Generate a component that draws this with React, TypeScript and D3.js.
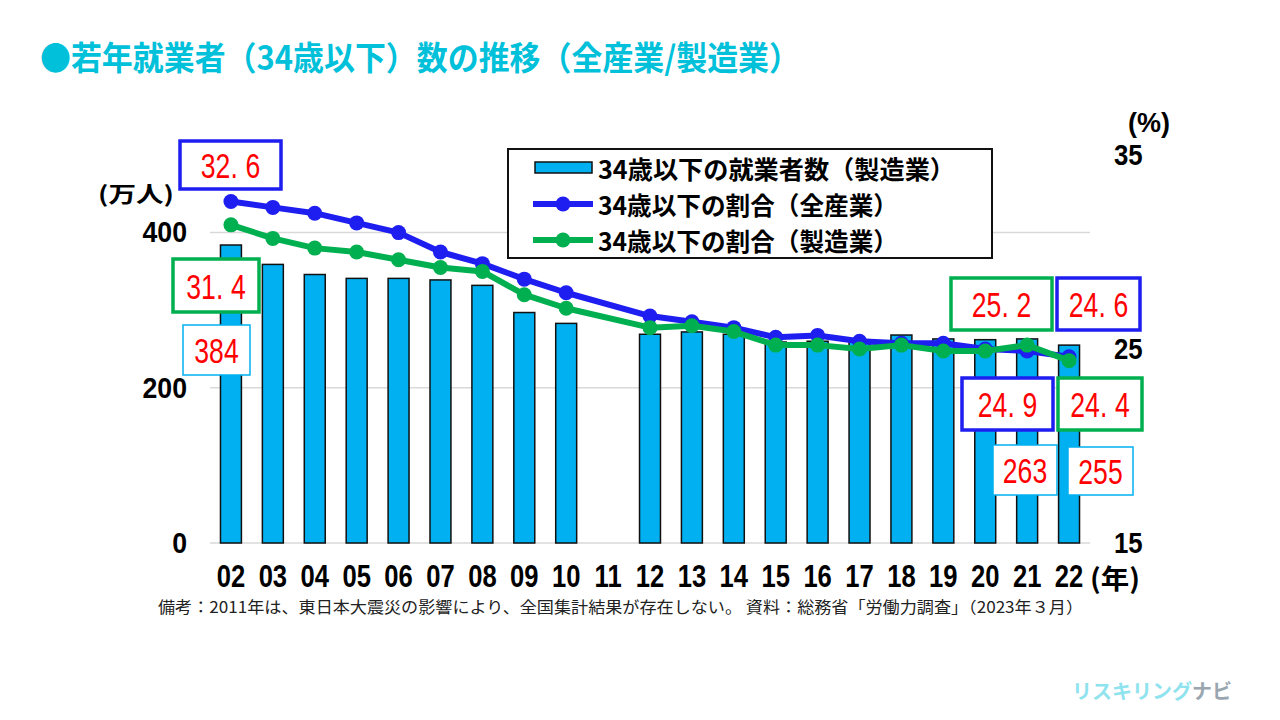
import React from "react";
import * as d3 from "d3";

// ---- data ----
const years = ["02","03","04","05","06","07","08","09","10","11","12","13","14","15","16","17","18","19","20","21","22"];
// 34歳以下の就業者数（製造業）, 万人 (2011: no data)
const workersMfg: (number | null)[] = [384,359,346,341,341,339,332,297,283,null,269,272,269,259,260,262,268,263,262,263,255];
// 34歳以下の割合（全産業）, %
const shareAll: (number | null)[] = [32.6,32.3,32.0,31.5,31.0,30.0,29.4,28.6,27.9,null,26.7,26.4,26.1,25.6,25.7,25.4,25.3,25.3,25.0,24.9,24.6];
// 34歳以下の割合（製造業）, %
const shareMfg: (number | null)[] = [31.4,30.7,30.2,30.0,29.6,29.2,29.0,27.8,27.1,null,26.1,26.2,25.9,25.2,25.2,25.0,25.2,24.9,24.9,25.2,24.4];
const leftTicks = [0, 200, 400];
const rightTicks = [15, 25, 35];
const legendLabels = ["34歳以下の就業者数（製造業）", "34歳以下の割合（全産業）", "34歳以下の割合（製造業）"];

const CYAN = "#00B0F0";
const BLUE = "#1E1EF0";
const GREEN = "#00B050";
const RED = "#FF0000";
const JP = "'Noto Sans CJK JP', 'Noto Sans', sans-serif";
const NUM = "'Liberation Sans', Arial, sans-serif";

function BoxLabel({ x, y, w, h, color, sw, value, decimal }: any) {
  const s = decimal ? (value as number).toFixed(1) : String(value);
  const parts = s.split(".");
  return (
    <g>
      <rect x={x} y={y} width={w} height={h} fill="#fff" stroke={color} strokeWidth={sw} />
      <text
        transform={`translate(${x + w / 2},${y + h / 2 + 1}) scale(0.76,1)`}
        textAnchor="middle"
        dominantBaseline="central"
        fontFamily={NUM}
        fontSize={35}
        fill={RED}
      >
        {decimal ? (
          <>
            <tspan>{parts[0] + "."}</tspan>
            <tspan dx={10}>{parts[1]}</tspan>
          </>
        ) : (
          s
        )}
      </text>
    </g>
  );
}

export default function App() {
  const L = 210, R = 1090, T = 155, B = 543;
  const x = d3.scaleBand<string>().domain(years).range([L, R]).paddingInner(0.5).paddingOuter(0.25);
  const yL = d3.scaleLinear().domain([0, 500]).range([B, T]);
  const yR = d3.scaleLinear().domain([15, 35]).range([B, T]);
  const cx = (yr: string) => (x(yr) as number) + x.bandwidth() / 2;

  const pts = (arr: (number | null)[]) =>
    years.map((yr, i) => [yr, arr[i]] as [string, number | null]).filter((d) => d[1] != null) as [string, number][];
  const line = d3.line<[string, number]>().x((d) => cx(d[0])).y((d) => yR(d[1]));

  const allPts = pts(shareAll);
  const mfgPts = pts(shareMfg);
  const i02 = 0, i21 = years.indexOf("21"), i22 = years.indexOf("22");

  return (
    <svg width={1280} height={720} style={{ position: "absolute", left: 0, top: 0, background: "#fff" }}>
      <rect width={1280} height={720} fill="#fff" />
      {/* title */}
      <text x={40} y={56} fontFamily={JP} fontWeight={700} fontSize={33} fill="#00C0DA" dominantBaseline="central" textLength={760} lengthAdjust="spacingAndGlyphs">
        ●若年就業者（34歳以下）数の推移（全産業/製造業）
      </text>

      {/* grid */}
      {leftTicks.map((t) => (
        <line key={t} x1={L} x2={R} y1={yL(t)} y2={yL(t)} stroke="#D9D9D9" strokeWidth={1.5} />
      ))}

      {/* bars */}
      {years.map((yr, i) =>
        workersMfg[i] == null ? null : (
          <rect
            key={yr}
            x={x(yr)}
            y={yL(workersMfg[i] as number)}
            width={x.bandwidth()}
            height={yL(0) - yL(workersMfg[i] as number)}
            fill={CYAN}
            stroke="#111"
            strokeWidth={1.5}
          />
        )
      )}

      {/* lines */}
      <path d={line(allPts) || ""} fill="none" stroke={BLUE} strokeWidth={6} strokeLinejoin="round" />
      {allPts.map((d) => (
        <circle key={"a" + d[0]} cx={cx(d[0])} cy={yR(d[1])} r={7.5} fill={BLUE} />
      ))}
      <path d={line(mfgPts) || ""} fill="none" stroke={GREEN} strokeWidth={6} strokeLinejoin="round" />
      {mfgPts.map((d) => (
        <circle key={"m" + d[0]} cx={cx(d[0])} cy={yR(d[1])} r={7.5} fill={GREEN} />
      ))}

      {/* left axis */}
      {leftTicks.map((t) => (
        <text key={t} transform={`translate(187,${yL(t)}) scale(0.92,1)`} textAnchor="end" dominantBaseline="central" fontFamily={NUM} fontWeight={700} fontSize={29}>
          {t}
        </text>
      ))}
      <text x={98} y={192} dominantBaseline="central" fontFamily={JP} fontWeight={700} fontSize={22} textLength={76} lengthAdjust="spacingAndGlyphs">
        (万人)
      </text>

      {/* right axis */}
      {rightTicks.map((t) => (
        <text key={t} transform={`translate(1114,${yR(t)}) scale(0.86,1)`} dominantBaseline="central" fontFamily={NUM} fontWeight={700} fontSize={30}>
          {t}
        </text>
      ))}
      <text x={1128} y={123} dominantBaseline="central" fontFamily={NUM} fontWeight={700} fontSize={27}>
        (%)
      </text>

      {/* x axis */}
      {years.map((yr) => (
        <text key={yr} transform={`translate(${cx(yr)},${576}) scale(0.8,1)`} textAnchor="middle" dominantBaseline="central" fontFamily={NUM} fontWeight={700} fontSize={32}>
          {yr}
        </text>
      ))}
      <text x={1090} y={577} dominantBaseline="central" fontFamily={JP} fontWeight={700} fontSize={27} textLength={50} lengthAdjust="spacingAndGlyphs">
        (年)
      </text>

      {/* footnote */}
      <text x={158} y={606} dominantBaseline="central" fontFamily={JP} fontSize={16} fill="#222" textLength={925} lengthAdjust="spacingAndGlyphs">
        備考：2011年は、東日本大震災の影響により、全国集計結果が存在しない。 資料：総務省「労働力調査」（2023年３月）
      </text>

      {/* legend */}
      <rect x={508} y={149} width={484} height={109} fill="#fff" stroke="#111" strokeWidth={2} />
      <rect x={535} y={162} width={57} height={11} fill={CYAN} stroke="#111" strokeWidth={1.5} />
      <line x1={533} x2={593} y1={204} y2={204} stroke={BLUE} strokeWidth={6} />
      <circle cx={563} cy={204} r={7.5} fill={BLUE} />
      <line x1={533} x2={593} y1={240} y2={240} stroke={GREEN} strokeWidth={6} />
      <circle cx={563} cy={240} r={7.5} fill={GREEN} />
      {legendLabels.map((lab, i) => (
        <text key={lab} x={598} y={168 + i * 36} dominantBaseline="central" fontFamily={JP} fontWeight={700} fontSize={25} textLength={i === 0 ? 357 : 300} lengthAdjust="spacingAndGlyphs">
          {lab}
        </text>
      ))}

      {/* annotation boxes */}
      <BoxLabel x={180} y={141} w={101} h={48} color={BLUE} sw={3.5} value={shareAll[i02]} decimal />
      <BoxLabel x={173} y={259} w={86} h={53} color={GREEN} sw={3.5} value={shareMfg[i02]} decimal />
      <BoxLabel x={183} y={325} w={67} h={50} color={CYAN} sw={1.5} value={workersMfg[i02]} />
      <BoxLabel x={951} y={278} w={101} h={52} color={GREEN} sw={3.5} value={shareMfg[i21]} decimal />
      <BoxLabel x={1057} y={278} w={83} h={52} color={BLUE} sw={3.5} value={shareAll[i22]} decimal />
      <BoxLabel x={962} y={378} w={91} h={52} color={BLUE} sw={3.5} value={shareAll[i21]} decimal />
      <BoxLabel x={1058} y={378} w={84} h={52} color={GREEN} sw={3.5} value={shareMfg[i22]} decimal />
      <BoxLabel x={993} y={445} w={64} h={50} color={CYAN} sw={1.5} value={workersMfg[i21]} />
      <BoxLabel x={1068} y={447} w={65} h={48} color={CYAN} sw={1.5} value={workersMfg[i22]} />

      {/* watermark */}
      <text x={1072} y={690} dominantBaseline="central" fontFamily={JP} fontWeight={700} fontSize={20}>
        <tspan fill="#8FE3EE">リスキリング</tspan>
        <tspan fill="#9AA6AF">ナビ</tspan>
      </text>
    </svg>
  );
}
